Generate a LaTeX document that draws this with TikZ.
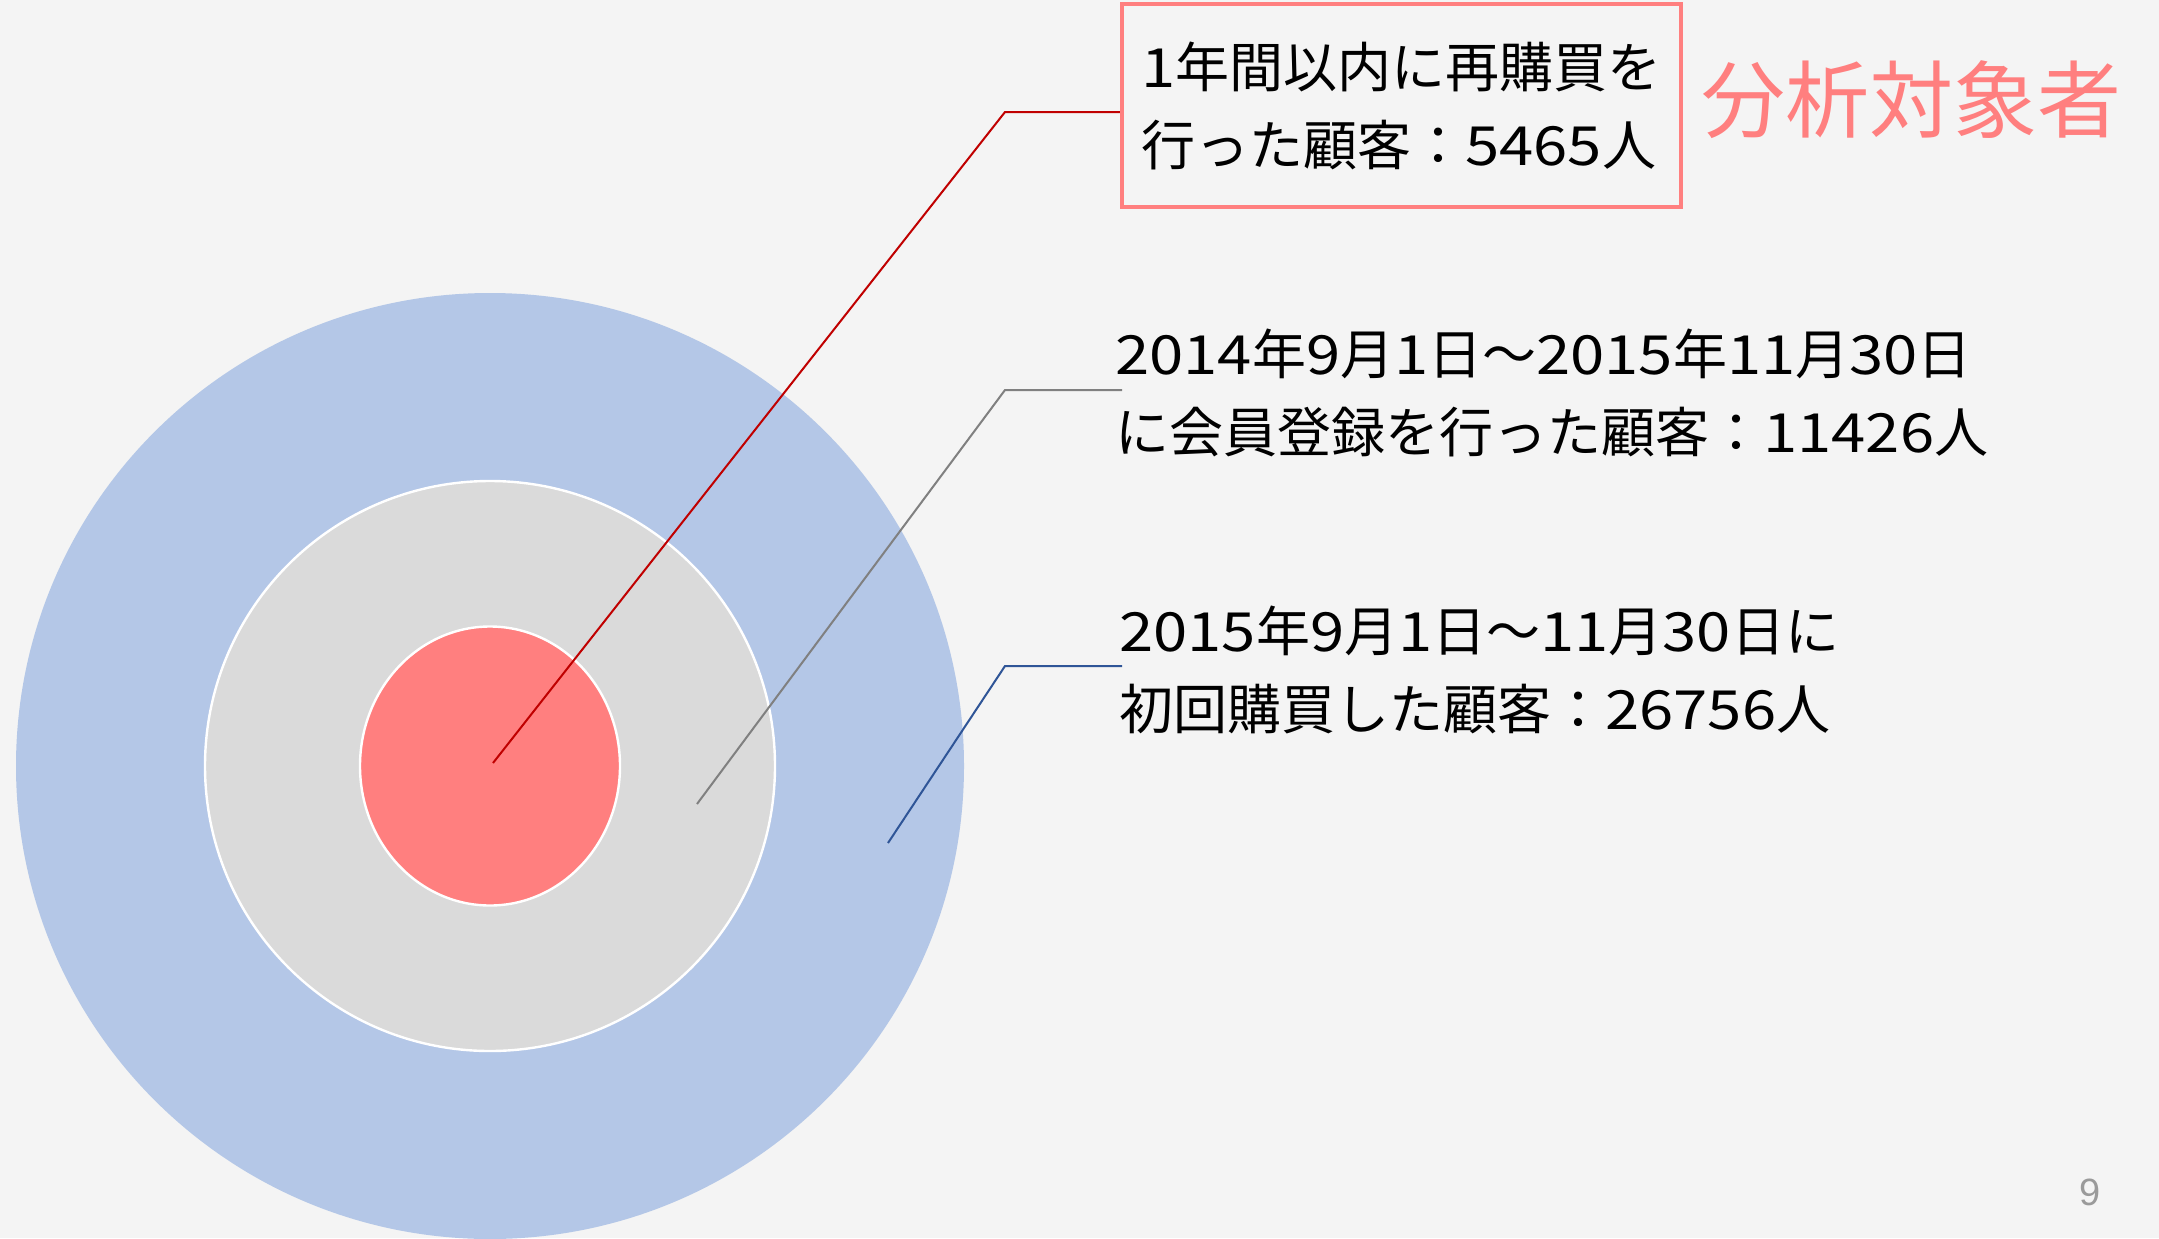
\documentclass[tikz,border=0pt]{standalone}
\usepackage{fontspec}
\usetikzlibrary{shapes.geometric}
\newfontfamily\jp{Noto Sans CJK JP}
\newfontfamily\jpw[FakeStretch=1.14]{Noto Sans CJK JP}
\newcommand{\dg}[1]{{\jpw #1}}
\setmainfont{Liberation Sans}
\definecolor{bg}{HTML}{F4F4F4}
\definecolor{ringblue}{HTML}{B4C7E7}
\definecolor{ringgray}{HTML}{DADADA}
\definecolor{ringred}{HTML}{FF7F7F}
\definecolor{lnred}{HTML}{C00000}
\definecolor{lngray}{HTML}{808080}
\definecolor{lnblue}{HTML}{2F5597}
\tikzset{
  ring/.style={ellipse, draw=white, line width=1.2pt, inner sep=0pt, outer sep=0pt},
  lbl/.style={font=\jp\fontsize{27}{39}\selectfont, align=left, inner sep=0pt, anchor=west},
  leader/.style={line width=1pt}
}
\begin{document}
\begin{tikzpicture}[x=0.5pt,y=-0.5pt]
\fill[bg] (0,0) rectangle (2159,1238);
\useasboundingbox (0,0) rectangle (2159,1238);
\clip (0,0) rectangle (2159,1238);
% rings
\node[ring, fill=ringblue, draw=none, minimum width=474pt, minimum height=473pt] (outer) at (490,766) {};
\node[ring, fill=ringgray, minimum width=285pt, minimum height=285pt] (middle) at (490,766) {};
\node[ring, fill=ringred, minimum width=130pt, minimum height=139.5pt] (inner) at (490,766) {};
\coordinate (pred) at (493,763);
\coordinate (pgray) at (697,804);
\coordinate (pblue) at (888,843);
% labels
\node[draw=ringred, line width=2.2pt, minimum width=279.5pt, minimum height=101.5pt, inner sep=0pt,
      font=\jp\fontsize{27}{39}\selectfont, align=left] (box) at (1401.5,105.5)
      {\dg{1}年間以内に再購買を\\行った顧客：\dg{5465}人};
\node[font=\jp\fontsize{42}{50}\selectfont, text=ringred, inner sep=0pt] (target) at (1911,100) {分析対象者};
\node[lbl] (lgray) at (1115,393) {\dg{2014}年\dg{9}月\dg{1}日〜\dg{2015}年\dg{11}月\dg{30}日\\に会員登録を行った顧客：\dg{11426}人};
\node[lbl] (lblue) at (1119,670) {\dg{2015}年\dg{9}月\dg{1}日〜\dg{11}月\dg{30}日に\\初回購買した顧客：\dg{26756}人};
\node[font=\fontsize{19}{22}\selectfont, text=lngray!80, inner sep=0pt] (pnum) at (2090,1192) {9};
% leaders
\coordinate (ered) at (1005,112);
\coordinate (egray) at (1005,390);
\coordinate (eblue) at (1005,666);
\draw[leader, lnred] (pred) -- (ered) -- (ered -| box.west);
\draw[leader, lngray] (pgray) -- (egray) -- (1122,390);
\draw[leader, lnblue] (pblue) -- (eblue) -- (1122,666);
\end{tikzpicture}
\end{document}
